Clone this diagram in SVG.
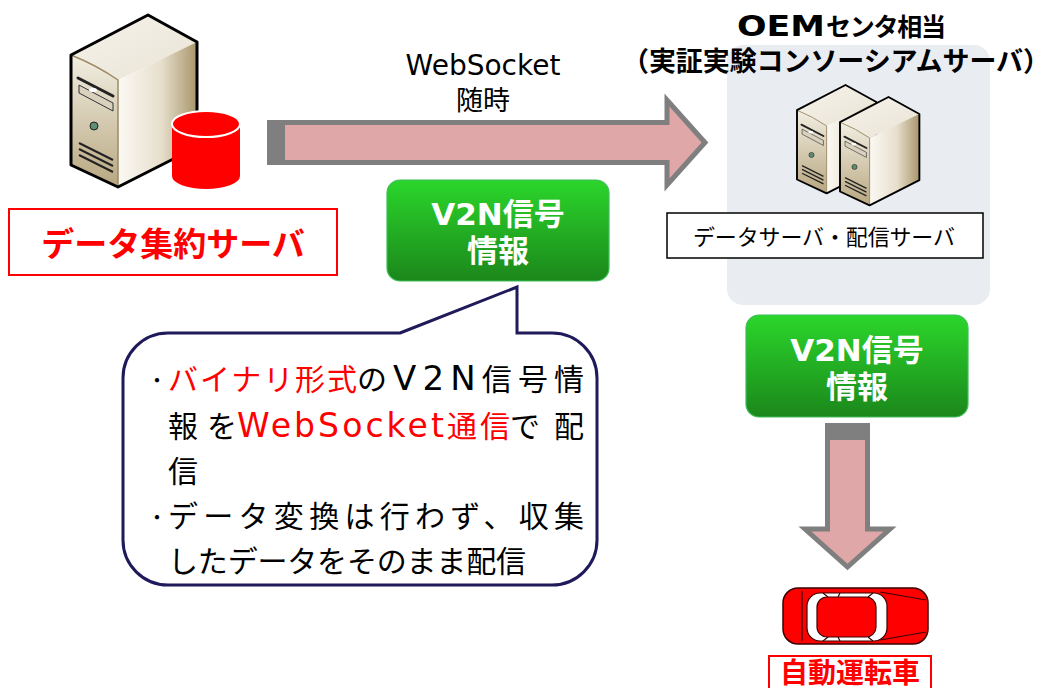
<svg xmlns="http://www.w3.org/2000/svg" xmlns:xlink="http://www.w3.org/1999/xlink" width="1052" height="688" viewBox="0 0 1052 688">
  <defs>
    <style>
      .jp { font-family: "DejaVu Sans", "Noto Sans CJK JP", sans-serif; }
      .b { font-weight: bold; }
      .red { fill: #FF0000; }
      .blk { fill: #000; }
      .wht { fill: #FFFFFF; }
      .flow { fill: #DFA7A7; stroke: #7F7F7F; stroke-width: 5; stroke-linejoin: miter; }
      .cap { fill: #7F7F7F; }
      .v2n { fill: url(#gGreen); stroke: #3DBE5A; stroke-width: 1.2; }
    </style>
    <linearGradient id="gGreen" x1="0" y1="0" x2="0" y2="1">
      <stop offset="0" stop-color="#2BD62B"/>
      <stop offset="1" stop-color="#1B871B"/>
    </linearGradient>
    <linearGradient id="gFront" x1="0" y1="0" x2="0" y2="1">
      <stop offset="0" stop-color="#F2EEE2"/>
      <stop offset="1" stop-color="#B8A780"/>
    </linearGradient>
    <linearGradient id="gSide" x1="0" y1="0" x2="1" y2="0">
      <stop offset="0" stop-color="#FBF9F4"/>
      <stop offset="0.55" stop-color="#E7DFCC"/>
      <stop offset="1" stop-color="#A8956B"/>
    </linearGradient>
    <linearGradient id="gTop" x1="0" y1="0" x2="1" y2="1">
      <stop offset="0" stop-color="#F6F3EC"/>
      <stop offset="1" stop-color="#E9E3D4"/>
    </linearGradient>
    <!-- tower server icon, local size 126 x 172 -->
    <g id="tower">
      <polygon points="0,40 77,0 126,27 47,65" fill="url(#gTop)"/>
      <polygon points="0,40 47,65 47,172 0,150" fill="url(#gFront)"/>
      <polygon points="47,65 126,27 126,132 47,172" fill="url(#gSide)"/>
      <path d="M0,40 Q25,50 47,65 L47,172" fill="none" stroke="#9C8A63" stroke-width="1.5"/>
      <line x1="7" y1="63" x2="42" y2="81" stroke="#222" stroke-width="3" stroke-linecap="round"/>
      <polygon points="8,70 42,88 42,96 8,78" fill="#D9D1BD" stroke="#333" stroke-width="1"/>
      <ellipse cx="22" cy="75" rx="4" ry="2" fill="#FFF"/>
      <circle cx="23" cy="111" r="4" fill="#5E8F74" stroke="#222" stroke-width="1"/>
      <line x1="8" y1="128" x2="42" y2="145" stroke="#222" stroke-width="2"/>
      <line x1="8" y1="134" x2="42" y2="151" stroke="#222" stroke-width="2"/>
      <line x1="8" y1="140" x2="42" y2="157" stroke="#222" stroke-width="2"/>
      <path d="M0,40 L77,0 L126,27 L126,132 L47,172 L0,150 Z" fill="none" stroke="#000" stroke-width="3" stroke-linejoin="round"/>
    </g>
  </defs>

  <rect width="1052" height="688" fill="#FFFFFF"/>

  <!-- OEM centre backdrop -->
  <rect x="727" y="45" width="263" height="260" rx="16" fill="#E9ECF1"/>

  <!-- connectors -->
  <g id="connectors">
    <polygon class="flow" points="269.5,122.5 667,122.5 667,100 705,142.5 667,185 667,162.5 269.5,162.5"/>
    <rect class="cap" x="267" y="120" width="18" height="45"/>
    <polygon class="flow" points="827.5,425.5 867.5,425.5 867.5,529 890,529 847.5,567 805,529 827.5,529"/>
    <rect class="cap" x="825" y="423" width="45" height="17"/>
    <text class="jp blk" x="483" y="75" font-size="28" text-anchor="middle">WebSocket</text>
    <text class="jp blk" x="483" y="110" font-size="27" text-anchor="middle">随時</text>
  </g>

  <!-- data aggregation server -->
  <g id="aggregation-server">
    <use href="#tower" transform="translate(71,15)"/>
    <path d="M172,124 L172,176 A34,13 0 0 0 240,176 L240,124 Z" fill="#FF0000"/>
    <ellipse cx="206" cy="124" rx="34" ry="13" fill="#FF0000" stroke="#FFFFFF" stroke-width="2"/>
    <rect x="9" y="209" width="328" height="66" fill="#FFFFFF" stroke="#FF0000" stroke-width="2"/>
    <text class="jp b red" x="173" y="256" font-size="33" text-anchor="middle">データ集約サーバ</text>
  </g>

  <!-- OEM centre servers -->
  <g id="oem-center">
    <text class="jp b blk" x="737" y="36" font-size="28" textLength="88" lengthAdjust="spacingAndGlyphs">OEM</text>
    <text class="jp b blk" x="826" y="36" font-size="25" textLength="120">センタ相当</text>
    <text class="jp b blk" x="622" y="71" font-size="27" textLength="428">（実証実験コンソーシアムサーバ）</text>
    <use href="#tower" transform="translate(797,85) scale(0.63)"/>
    <use href="#tower" transform="translate(840,97) scale(0.63)"/>
    <rect x="667" y="213" width="316" height="45" fill="#FFFFFF" stroke="#000" stroke-width="1.5"/>
    <text class="jp blk" x="693" y="245" font-size="22" textLength="262">データサーバ・配信サーバ</text>
  </g>

  <!-- V2N signal info (upper) -->
  <g id="v2n-info-1">
    <rect class="v2n" x="387" y="180" width="222" height="101" rx="13"/>
    <text class="jp b wht" x="498" y="225" font-size="31" text-anchor="middle">V2N信号</text>
    <text class="jp b wht" x="498" y="262" font-size="31" text-anchor="middle">情報</text>
  </g>

  <!-- V2N signal info (lower) -->
  <g id="v2n-info-2">
    <rect class="v2n" x="746" y="315" width="222" height="102" rx="13"/>
    <text class="jp b wht" x="857" y="361" font-size="31" text-anchor="middle">V2N信号</text>
    <text class="jp b wht" x="857" y="398" font-size="31" text-anchor="middle">情報</text>
  </g>

  <!-- explanation callout -->
  <g id="callout">
    <path d="M400,333 L517,287 L517,333 L552,333 A45,45 0 0 1 597,378 L597,540 A45,45 0 0 1 552,585 L168,585 A45,45 0 0 1 123,540 L123,378 A45,45 0 0 1 168,333 Z" fill="#FFFFFF" stroke="#1F1A5A" stroke-width="3" stroke-linejoin="miter"/>
    <g class="jp" font-size="30">
      <text class="blk" x="147" y="388" font-size="20">・</text>
      <text class="red" x="168" y="390" textLength="189">バイナリ形式</text>
      <text class="blk" x="357" y="390" textLength="227">の<tspan font-size="34">V2N</tspan>信号情</text>
      <text class="blk" x="168" y="437" textLength="69">報を</text>
      <text class="red" x="237" y="437" textLength="273"><tspan font-size="33">WebSocket</tspan>通信</text>
      <text class="blk" x="510" y="437" textLength="74">で配</text>
      <text class="blk" x="168" y="482">信</text>
      <text class="blk" x="147" y="525" font-size="20">・</text>
      <text class="blk" x="168" y="527" textLength="416">データ変換は行わず、収集</text>
      <text class="blk" x="168" y="572" textLength="358">したデータをそのまま配信</text>
    </g>
  </g>

  <!-- autonomous vehicle -->
  <g id="vehicle">
    <rect x="783" y="588" width="145" height="56" rx="15" fill="#FF0000" stroke="#3A0000" stroke-width="1.5"/>
    <line x1="802" y1="591" x2="802" y2="641" stroke="#3A0000" stroke-width="1.2"/>
    <line x1="880" y1="592" x2="926" y2="600" stroke="#3A0000" stroke-width="1.2"/>
    <line x1="880" y1="640" x2="926" y2="632" stroke="#3A0000" stroke-width="1.2"/>
    <rect x="807" y="593" width="80" height="48" rx="13" fill="#FFFFFF" stroke="#3A0000" stroke-width="1.2"/>
    <rect x="817" y="597" width="59" height="40" rx="10" fill="#FF0000" stroke="#3A0000" stroke-width="1.2"/>
    <path d="M823,593 L828,597 M840,593 L838,597 M873,593 L868,597 M823,641 L828,637 M840,641 L838,637 M873,641 L868,637" stroke="#3A0000" stroke-width="1.2" fill="none"/>
    <rect x="769" y="656" width="162" height="40" fill="#FFFFFF" stroke="#FF0000" stroke-width="2"/>
    <text class="jp b red" x="850" y="683" font-size="28" text-anchor="middle">自動運転車</text>
  </g>
</svg>
